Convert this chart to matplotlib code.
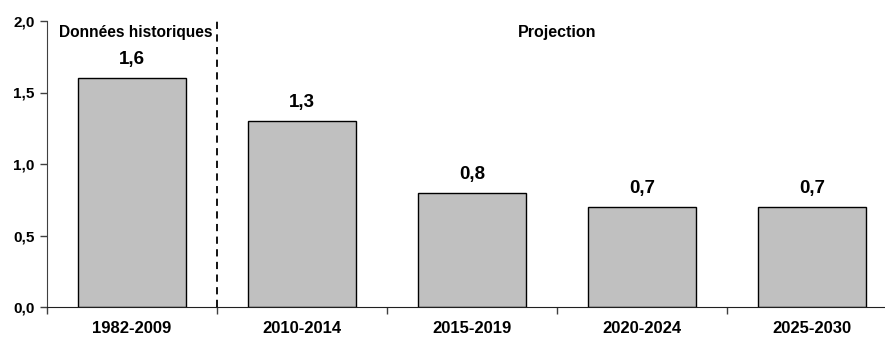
import matplotlib
matplotlib.use("Agg")
import matplotlib.pyplot as plt
from matplotlib.ticker import FixedLocator, FuncFormatter

periodes = ["1982-2009", "2010-2014", "2015-2019", "2020-2024", "2025-2030"]
valeurs = [1.6, 1.3, 0.8, 0.7, 0.7]

plt.rcParams['font.family'] = ['Liberation Sans', 'DejaVu Sans']
plt.rcParams['font.weight'] = 'bold'

fig = plt.figure(figsize=(8.85, 3.43), dpi=100)
ax = fig.add_axes([47/885, 36/343, 850/885, 286/343])

x = list(range(len(periodes)))
ax.bar(x, valeurs, width=0.63, color='#c0c0c0', edgecolor='black', linewidth=1.0, zorder=2)

for xi, v in zip(x, valeurs):
    ax.text(xi, v + 0.07, f"{v:.1f}".replace('.', ','), ha='center', va='bottom',
            fontsize=13.5, fontweight='bold')

ax.set_xlim(-0.5, 4.5)
ax.set_ylim(0, 2.0)
ax.set_yticks([0, 0.5, 1.0, 1.5, 2.0])
ax.yaxis.set_major_formatter(FuncFormatter(lambda v, p: f"{v:.1f}".replace('.', ',')))

ax.set_xticks(x)
ax.set_xticklabels(periodes)
ax.xaxis.set_minor_locator(FixedLocator([i + 0.5 for i in range(-1, len(periodes))]))
ax.tick_params(axis='x', which='major', length=0, pad=10, labelsize=12)
ax.tick_params(axis='x', which='minor', length=5, width=1, color='#404040')
ax.tick_params(axis='y', length=5, width=1, color='#404040', labelsize=11, pad=4)
for lab in ax.get_xticklabels() + ax.get_yticklabels():
    lab.set_fontweight('bold')

for s in ['top', 'right']:
    ax.spines[s].set_visible(False)
ax.spines['left'].set_color('#404040')
ax.spines['bottom'].set_color('#202020')

ax.axvline(0.5, color='black', linestyle=(0, (4, 3)), linewidth=1.3, ymin=0, ymax=1.0, zorder=3)

ax.text(0.02, 1.97, "Données historiques", ha='center', va='top', fontsize=11.2, fontweight='bold')
ax.text(2.5, 1.97, "Projection", ha='center', va='top', fontsize=11.5, fontweight='bold')

fig.savefig("out.png", dpi=100)
